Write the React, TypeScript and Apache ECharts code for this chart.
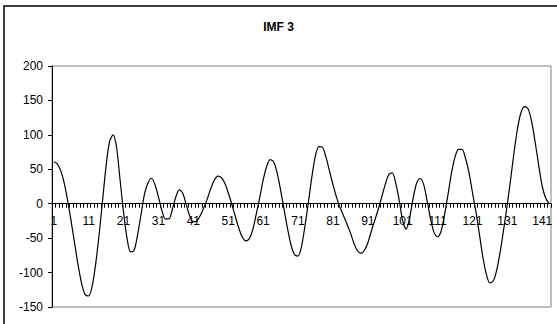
import React, { useEffect, useRef } from "react";
import * as echarts from "echarts";

const title = "IMF 3";
const categories: string[] = Array.from({ length: 143 }, (_, i) => String(i + 1));
const values: number[] = [
  61, 58, 48, 30, 4, -26, -58, -90, -116, -132,
  -134, -120, -88, -45, 5, 55, 90, 100, 82, 35,
  -12, -50, -70, -68, -46, -16, 14, 30, 37, 28,
  10, -10, -22, -22, -8, 10, 20, 15, -2, -18,
  -26, -25, -17, -6, 7, 22, 34, 40, 38, 30,
  16, 0, -18, -35, -48, -54, -51, -38, -16, 8,
  34, 54, 64, 61, 45, 20, -8, -36, -60, -74,
  -76, -62, -32, 3, 40, 70, 83, 82, 68, 48,
  28, 10, -5, -17, -29, -42, -57, -68, -72, -68,
  -57, -40, -24, -8, 10, 28, 42, 45, 30, 5,
  -25, -37, -20, 8, 30, 37, 28, 4, -22, -42,
  -48, -40, -16, 14, 45, 68, 79, 79, 66, 45,
  16, -12, -45, -78, -103, -115, -112, -95, -68, -35,
  0, 38, 78, 112, 134, 141, 137, 118, 88, 55,
  25, 8, 0,
];
const yMin = -150;
const yMax = 200;
const yInterval = 50;

const GRID_TOP = 66;
const GRID_BOTTOM = 17;
const HEIGHT = 324;

export default function App() {
  const ref = useRef<HTMLDivElement>(null);
  useEffect(() => {
    if (!ref.current) return;
    const chart = echarts.init(ref.current, null, { renderer: "svg" });
    const font = "'Liberation Sans', Arial, sans-serif";
    const plotH = HEIGHT - GRID_TOP - GRID_BOTTOM;
    const zeroOffset = -(plotH * (0 - yMin)) / (yMax - yMin);
    chart.setOption({
      animation: false,
      backgroundColor: "#fff",
      textStyle: { fontFamily: font },
      title: {
        text: title,
        left: "center",
        top: 16,
        textStyle: { fontFamily: font, fontSize: 12, fontWeight: "bold", color: "#000" },
      },
      graphic: [
        {
          type: "rect",
          shape: { x: 4, y: 6, width: 700, height: 500 },
          style: { fill: "none", stroke: "#000", lineWidth: 1.5 },
          silent: true,
        },
      ],
      grid: {
        left: 52,
        right: 6,
        top: GRID_TOP,
        bottom: GRID_BOTTOM,
        show: true,
        borderColor: "#808080",
        borderWidth: 1,
        backgroundColor: "transparent",
      },
      xAxis: {
        type: "category",
        data: categories,
        boundaryGap: true,
        position: "bottom",
        offset: zeroOffset,
        axisLine: { onZero: false, lineStyle: { color: "#000", width: 1 } },
        axisTick: { show: true, interval: 0, length: 4, lineStyle: { color: "#000" } },
        axisLabel: {
          interval: 9,
          margin: 11,
          fontSize: 12,
          color: "#000",
          fontFamily: font,
        },
        splitLine: { show: false },
      },
      yAxis: {
        type: "value",
        min: yMin,
        max: yMax,
        interval: yInterval,
        axisLine: { show: true, lineStyle: { color: "#000", width: 1 } },
        axisTick: { show: true, length: 4, lineStyle: { color: "#000" } },
        axisLabel: { fontSize: 12, color: "#000", margin: 9, fontFamily: font },
        splitLine: { show: false },
      },
      series: [
        {
          type: "line",
          data: values,
          showSymbol: false,
          smooth: 0.3,
          lineStyle: { color: "#000", width: 1.2 },
        },
      ],
    });
    return () => chart.dispose();
  }, []);
  return (
    <div
      ref={ref}
      style={{ position: "fixed", left: 0, top: 0, width: 557, height: 324 }}
    />
  );
}
